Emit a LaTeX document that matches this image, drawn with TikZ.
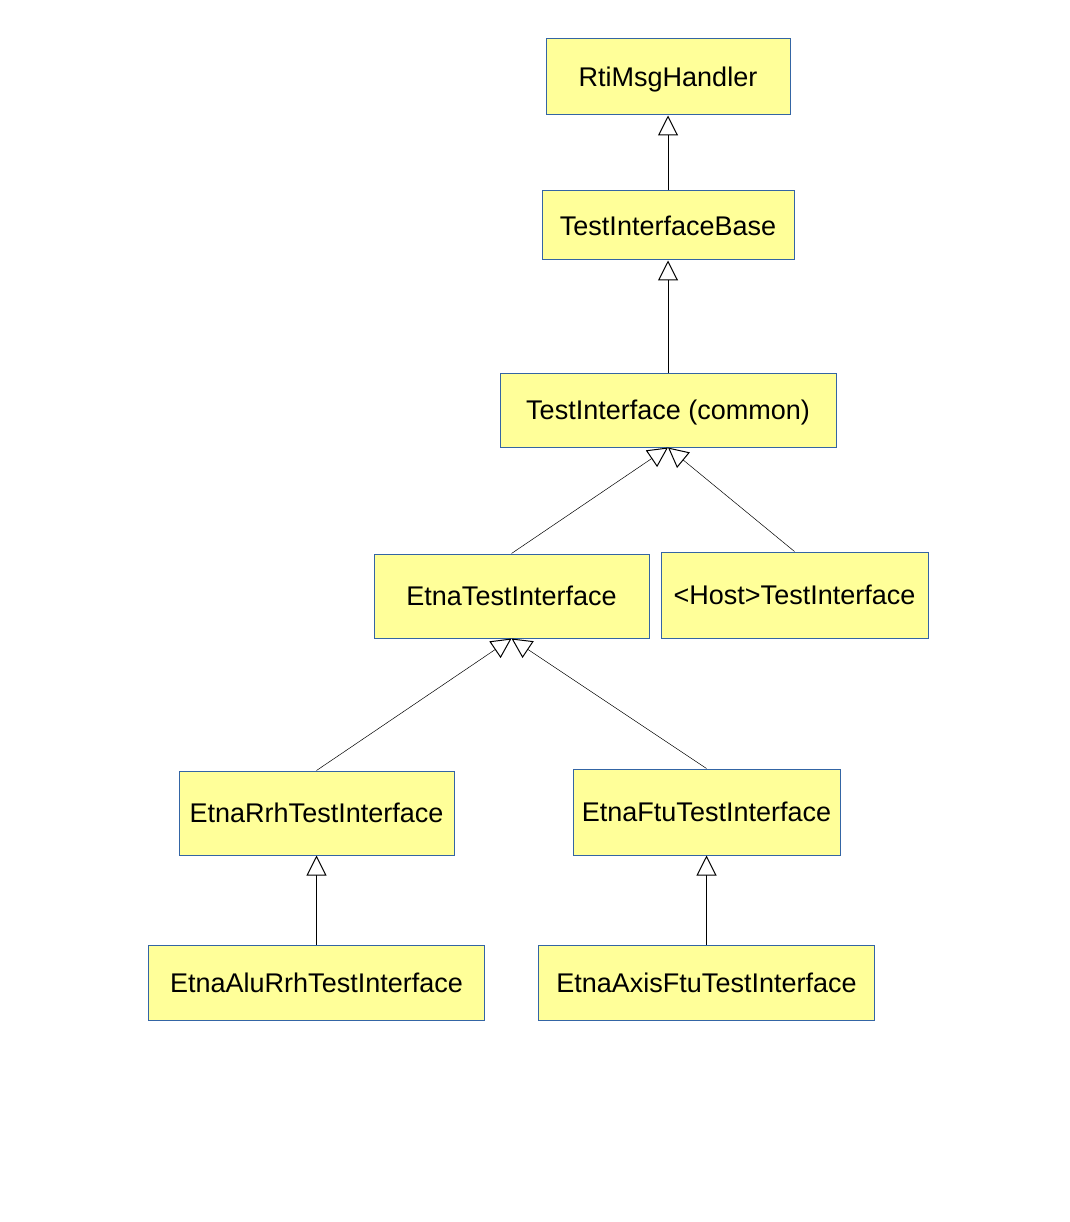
\documentclass[tikz,border=0pt]{standalone}
\usepackage{fontspec}
\setmainfont{Liberation Sans}
\usetikzlibrary{arrows.meta}
\definecolor{boxfill}{HTML}{FFFF99}
\definecolor{boxline}{HTML}{3465A4}
\tikzset{
  cls/.style={draw=boxline, fill=boxfill, line width=1pt, inner sep=0pt, anchor=center,
    font=\fontsize{27}{32}\selectfont, text=black, text height=19.5pt, text depth=0pt},
  inh/.style={draw=black, line width=1pt,
    -{Triangle[length=20pt,width=20pt,fill=white,line width=1pt]}},
  inhthin/.style={draw=black, line width=0.5pt,
    -{Triangle[length=20pt,width=20pt,fill=white,line width=1pt]}},
}
\begin{document}
\begin{tikzpicture}[x=1pt,y=-1pt]
\useasboundingbox[fill=white] (0,0) rectangle (1069,1222);
\node[cls, minimum width=244pt, minimum height=76pt] (rti) at (668,77) {RtiMsgHandler};
\node[cls, minimum width=252pt, minimum height=69pt] (tib) at (668,225.5) {TestInterfaceBase};
\node[cls, minimum width=336pt, minimum height=74pt] (tic) at (668,410) {TestInterface (common)};
\node[cls, minimum width=275pt, minimum height=84pt] (eti) at (511.5,596) {EtnaTestInterface};
\node[cls, minimum width=267pt, minimum height=86pt] (hti) at (794.5,595) {<Host>TestInterface};
\node[cls, minimum width=275pt, minimum height=84pt] (rrh) at (316.5,813) {EtnaRrhTestInterface};
\node[cls, minimum width=267pt, minimum height=86pt] (ftu) at (706.5,812) {EtnaFtuTestInterface};
\node[cls, minimum width=336pt, minimum height=75pt] (alu) at (316.5,982.5) {EtnaAluRrhTestInterface};
\node[cls, minimum width=336pt, minimum height=75pt] (axis) at (706.5,982.5) {EtnaAxisFtuTestInterface};
\draw[inh] (tib.north) -- (rti.south);
\draw[inh] (tic.north) -- (tib.south);
\draw[inhthin] (eti.north) -- (tic.south);
\draw[inhthin] (hti.north) -- (tic.south);
\draw[inhthin] (rrh.north) -- (eti.south);
\draw[inhthin] (ftu.north) -- (eti.south);
\draw[inh] (alu.north) -- (rrh.south);
\draw[inh] (axis.north) -- (ftu.south);
\end{tikzpicture}
\end{document}
